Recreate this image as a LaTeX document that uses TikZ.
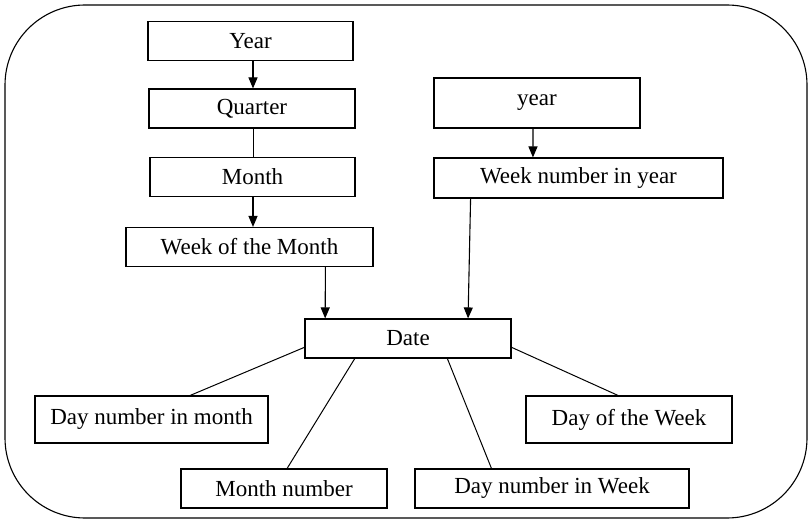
\documentclass[tikz,border=0pt]{standalone}
\usepackage{fontspec}
\setmainfont{Liberation Serif}
\usepackage{tikz}
\usetikzlibrary{arrows.meta,calc,positioning}

\begin{document}
\begin{tikzpicture}[x=1pt,y=-1pt,
    box/.style={draw=black, line width=1.1pt, inner sep=0pt, minimum height=39pt,
      font=\fontsize{23}{27}\selectfont},
    conn/.style={line width=1.1pt, -{Triangle[length=11pt,width=9pt]}},
    link/.style={line width=1pt}]
        \useasboundingbox (0,0) rectangle (809,521);
        % Draw the frame
        \draw[line width=1.1pt, rounded corners=80pt] (5,5) rectangle (807,518);
        % calendar side
        \node[box, minimum width=205pt] (year) at (250.5,41) {Year};
        \node[box, minimum width=206pt] (quarter) at (252,108.5) {Quarter};
        \node[box, minimum width=205pt] (month) at (252.5,177) {Month};
        \node[box, minimum width=247pt] (wotm) at (249.5,247) {Week of the Month};
        % week side
        \node[box, minimum width=206pt, minimum height=50pt] (yr) at (537,103) {year};
        \node[box, minimum width=289pt, minimum height=40pt] (wny) at (578.5,178) {Week number in year};
        % the date and its parts
        \node[box, minimum width=206pt] (date) at (408,338.5) {Date};
        \node[box, minimum width=233pt, minimum height=47pt] (dnim) at (151.5,419.5) {Day number in month};
        \node[box, minimum width=206pt, minimum height=47pt] (dotw) at (629,419.5) {Day of the Week};
        \node[box, minimum width=206pt] (mnum) at (284,488.5) {Month number};
        \node[box, minimum width=274pt] (dniw) at (552,488.5) {Day number in Week};
        % arrows
        \draw[conn] ([xshift=2.5pt]year.south) -- ([xshift=1pt]quarter.north);
        \draw[link] ([xshift=1pt]quarter.south) -- ([xshift=0.5pt]month.north);
        \draw[conn] ([xshift=0.5pt]month.south) -- ([xshift=3.5pt]wotm.north);
        \draw[conn] ([xshift=-4pt]yr.south) -- ($(wny.north west)!0.343!(wny.north east)$);
        \draw[conn] ($(wotm.south west)!0.806!(wotm.south east)$) -- ($(date.north west)!0.1!(date.north east)$);
        \draw[conn] ($(wny.south west)!0.128!(wny.south east)$) -- ($(date.north west)!0.79!(date.north east)$);
        % lines to the parts
        \draw[link] ($(date.north west)!0.72!(date.south west)$) -- ($(dnim.north west)!0.665!(dnim.north east)$);
        \draw[link] ($(date.south west)!0.243!(date.south east)$) -- ($(mnum.north west)!0.515!(mnum.north east)$);
        \draw[link] ($(date.south west)!0.69!(date.south east)$) -- ($(dniw.north west)!0.28!(dniw.north east)$);
        \draw[link] ($(date.north east)!0.72!(date.south east)$) -- ($(dotw.north west)!0.447!(dotw.north east)$);
      \end{tikzpicture}
\end{document}
